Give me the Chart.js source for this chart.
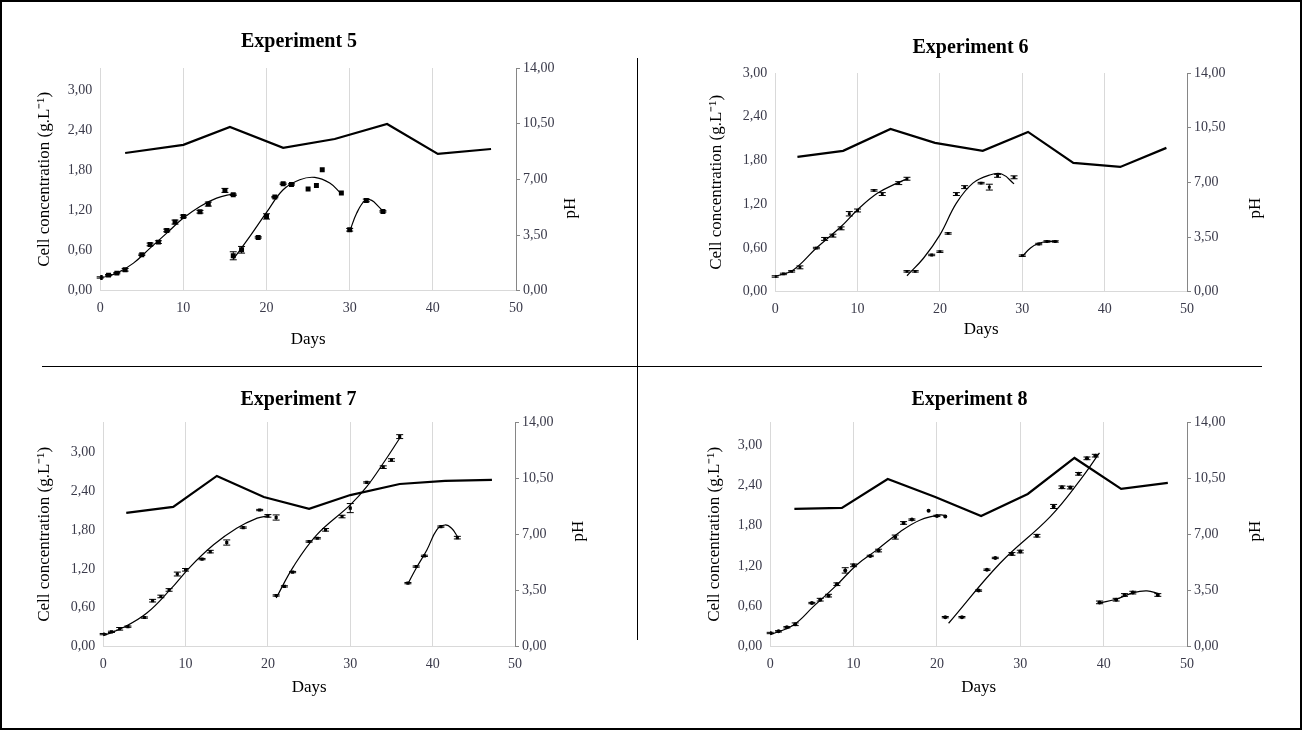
<!DOCTYPE html>
<html>
<head>
<meta charset="utf-8">
<script src="https://cdn.jsdelivr.net/npm/chart.js@4.4.0/dist/chart.umd.min.js"></script>
<style>
  body { margin: 0; background: #fff; }
  #frame { position: relative; width: 1302px; height: 730px; overflow: hidden; background: #fff; }
  #frame canvas { position: absolute; }
  .border { position: absolute; left: 0; top: 0; width: 1302px; height: 730px; box-sizing: border-box; border: 2px solid #000; pointer-events: none; }
  .ph { position: absolute; font: 17px 'Liberation Serif'; color: #000; transform: translate(-50%, -50%) rotate(-90deg); white-space: nowrap; }
  .vline { position: absolute; left: 637px; top: 58px; width: 1px; height: 582px; background: #000; }
  .hline { position: absolute; left: 42px; top: 366px; width: 1220px; height: 1px; background: #000; }
</style>
</head>
<body>
<div id="frame">
  <canvas id="exp5"></canvas>
  <canvas id="exp6"></canvas>
  <canvas id="exp7"></canvas>
  <canvas id="exp8"></canvas>
  <div class="vline"></div>
  <div class="hline"></div>
  <div class="border"></div>
</div>
<script>
// tick labels
const dayTicks = [0, 10, 20, 30, 40, 50];
const concTicks = [0, 0.6, 1.2, 1.8, 2.4, 3.0];
const phTicks = [0, 3.5, 7, 10.5, 14];

// Experiment 5 (three growth runs each)
const exp5Days = [[0, 1, 2, 3, 5, 6, 7, 8, 9, 10, 12, 13, 15, 16], [16, 17, 19, 20, 21, 22, 23, 25, 26, 26.7, 29], [30, 32, 34]];
const exp5Conc = [[0.20, 0.235, 0.265, 0.315, 0.54, 0.695, 0.73, 0.905, 1.03, 1.115, 1.185, 1.30, 1.505, 1.44], [0.525, 0.615, 0.80, 1.115, 1.405, 1.605, 1.595, 1.525, 1.58, 1.815, 1.465], [0.915, 1.355, 1.19]];
const exp5Err = [[0.01, 0.01, 0.01, 0.02, 0.01, 0.02, 0.02, 0.02, 0.03, 0.02, 0.02, 0.03, 0.03, 0.01], [0.06, 0.05, 0.01, 0.04, 0.01, 0.01, 0.01, 0, 0, 0, 0], [0.02, 0.02, 0.01]];
const exp5FitDays = [[0, 2, 4, 6, 8, 10, 12, 14, 16], [16, 18, 20, 22, 24, 25.8, 27.6, 28.9], [30, 30.85, 31.85, 32.65, 33.45, 34.05]];
const exp5FitConc = [[0.19, 0.265, 0.415, 0.64, 0.865, 1.09, 1.265, 1.39, 1.455], [0.475, 0.815, 1.175, 1.515, 1.665, 1.70, 1.615, 1.465], [0.89, 1.165, 1.355, 1.355, 1.265, 1.19]];
const exp5PhDays = [3, 10, 15.6, 22, 28.2, 34.5, 40.6, 47];
const exp5Ph = [8.66, 9.17, 10.30, 8.98, 9.54, 10.48, 8.60, 8.91];

// Experiment 6
const exp6Days = [[0, 1, 2, 3, 5, 6, 7, 8, 9, 10, 12, 13, 15, 16], [16, 17, 19, 20, 21, 22, 23, 25, 26, 27, 29], [30, 32, 33, 34]];
const exp6Conc = [[0.21, 0.245, 0.28, 0.335, 0.60, 0.725, 0.77, 0.87, 1.07, 1.115, 1.39, 1.34, 1.49, 1.55], [0.28, 0.28, 0.505, 0.55, 0.80, 1.34, 1.435, 1.49, 1.435, 1.59, 1.57], [0.495, 0.655, 0.69, 0.69]];
const exp6Err = [[0.01, 0.01, 0.01, 0.02, 0.01, 0.02, 0.02, 0.02, 0.03, 0.02, 0.01, 0.02, 0.02, 0.02], [0.01, 0.01, 0.01, 0.01, 0.01, 0.02, 0.02, 0.01, 0.04, 0.02, 0.02], [0.01, 0.01, 0.01, 0.01]];
const exp6FitDays = [[0, 2.2, 5, 8, 10, 12.4, 14.8, 16], [16, 18, 20, 22, 24, 26, 27.5, 29], [30, 31, 32, 33, 34.3]];
const exp6FitConc = [[0.21, 0.30, 0.60, 0.895, 1.125, 1.35, 1.49, 1.55], [0.22, 0.46, 0.78, 1.215, 1.49, 1.60, 1.615, 1.48], [0.485, 0.60, 0.665, 0.69, 0.69]];
const exp6PhDays = [2.7, 8.25, 14, 19.4, 25.2, 30.7, 36.2, 41.9, 47.5];
const exp6Ph = [8.63, 9.02, 10.42, 9.53, 9.02, 10.23, 8.25, 7.99, 9.21];

// Experiment 7
const exp7Days = [[0, 1, 2, 3, 5, 6, 7, 8, 9, 10, 12, 13, 15, 17, 19, 20, 21], [21, 22, 23, 25, 26, 27, 29, 30, 32, 34, 35, 36], [37, 38, 39, 41, 43]];
const exp7Conc = [[0.195, 0.23, 0.277, 0.31, 0.45, 0.71, 0.775, 0.875, 1.12, 1.185, 1.35, 1.465, 1.605, 1.835, 2.105, 2.015, 1.99], [0.79, 0.93, 1.15, 1.62, 1.67, 1.80, 2.005, 2.135, 2.53, 2.765, 2.875, 3.235], [0.98, 1.235, 1.40, 1.85, 1.68]];
const exp7Err = [[0.01, 0.01, 0.02, 0.01, 0.01, 0.02, 0.02, 0.02, 0.03, 0.02, 0.01, 0.02, 0.04, 0.01, 0.01, 0.02, 0.04], [0.01, 0.01, 0.01, 0.01, 0.01, 0.02, 0.02, 0.07, 0.01, 0.02, 0.02, 0.03], [0.01, 0.01, 0.01, 0.01, 0.02]];
const exp7FitDays = [[0, 2.5, 5.3, 8.1, 10.6, 13.4, 16.2, 18.7, 20], [21, 23.1, 25.9, 30, 32, 34, 36], [37, 38, 39.3, 40.5, 41.5, 42.3, 43]];
const exp7FitConc = [[0.17, 0.30, 0.52, 0.875, 1.235, 1.57, 1.825, 1.98, 2.015], [0.75, 1.235, 1.72, 2.185, 2.465, 2.825, 3.21], [0.97, 1.21, 1.49, 1.80, 1.875, 1.825, 1.70]];
const exp7PhDays = [2.8, 8.5, 13.8, 19.5, 25, 30, 36, 41.5, 47.2];
const exp7Ph = [8.34, 8.71, 10.64, 9.33, 8.59, 9.45, 10.14, 10.33, 10.39];

// Experiment 8
const exp8Days = [[0, 1, 2, 3, 5, 6, 7, 8, 9, 10, 12, 13, 15, 16, 17, 19, 20, 21], [21, 23, 25, 26, 27, 29, 30, 32, 34, 35, 36, 37, 38, 39], [39.5, 41.5, 42.5, 43.5, 46.5]];
const exp8Conc = [[0.205, 0.23, 0.29, 0.335, 0.65, 0.70, 0.76, 0.93, 1.135, 1.21, 1.35, 1.43, 1.63, 1.84, 1.89, 2.02, 1.945, 1.935], [0.44, 0.44, 0.835, 1.145, 1.32, 1.38, 1.415, 1.65, 2.085, 2.37, 2.365, 2.57, 2.80, 2.84], [0.66, 0.70, 0.77, 0.805, 0.77]];
const exp8Err = [[0.01, 0.01, 0.01, 0.02, 0.01, 0.02, 0.02, 0.02, 0.04, 0.02, 0.01, 0.02, 0.03, 0.02, 0.01, 0, 0.01, 0], [0.01, 0.01, 0.01, 0.01, 0.01, 0.02, 0.02, 0.02, 0.03, 0.02, 0.02, 0.02, 0.02, 0.02], [0.02, 0.02, 0.02, 0.02, 0.02]];
const exp8FitDays = [[0, 2.8, 5.2, 8, 10.4, 12.8, 15.6, 18, 20.4, 21.2], [21.4, 27.6, 33.6, 37.2, 39.5], [39.5, 41.6, 43.6, 45.2, 46.6]];
const exp8FitConc = [[0.18, 0.325, 0.60, 0.92, 1.22, 1.44, 1.71, 1.885, 1.96, 1.945], [0.35, 1.245, 1.935, 2.48, 2.88], [0.65, 0.71, 0.805, 0.83, 0.79]];
const exp8PhDays = [2.9, 8.6, 14.1, 19.8, 25.3, 30.9, 36.5, 42.1, 47.7];
const exp8Ph = [8.59, 8.65, 10.45, 9.33, 8.15, 9.52, 11.76, 9.83, 10.21];

const FONT = 'Liberation Serif';
const TICK_COLOR = '#3a3a4a';
const TITLE_SIZE = 20, AXIS_TITLE_SIZE = 17;

const pairs = (xs, ys) => xs.map((x, i) => ({ x: x, y: ys[i] }));
const comma = v => Number(v).toFixed(2).replace('.', ',');

// vertical error bars drawn through the y scale
const errorBars = {
  id: 'errorBars',
  afterDatasetsDraw(chart) {
    const ctx = chart.ctx;
    const ys = chart.scales.y;
    chart.data.datasets.forEach((ds, i) => {
      if (!ds.errors) return;
      const meta = chart.getDatasetMeta(i);
      ctx.save();
      ctx.strokeStyle = '#000';
      ctx.lineWidth = 1;
      meta.data.forEach((pt, j) => {
        const e = ds.errors[j];
        if (!e) return;
        const top = ys.getPixelForValue(ds.data[j].y + e);
        const bot = ys.getPixelForValue(ds.data[j].y - e);
        ctx.beginPath();
        ctx.moveTo(pt.x, top); ctx.lineTo(pt.x, bot);
        ctx.moveTo(pt.x - 3.5, top); ctx.lineTo(pt.x + 3.5, top);
        ctx.moveTo(pt.x - 3.5, bot); ctx.lineTo(pt.x + 3.5, bot);
        ctx.stroke();
      });
      ctx.restore();
    });
  }
};

function makePanel(id, title, g, days, conc, errs, fitDays, fitConc, phDays, phVals, yMax, marker) {
  const tLH = TITLE_SIZE * 1.2, aLH = AXIS_TITLE_SIZE * 1.2;
  const left = g.lx - aLH / 2, top = g.ty - tLH / 2, right = g.R + 48, bottom = g.dy + aLH / 2;
  const canvas = document.getElementById(id);
  canvas.style.left = left + 'px';
  canvas.style.top = top + 'px';
  canvas.width = right - left;
  canvas.height = bottom - top;

  const phLabel = document.createElement('div');
  phLabel.className = 'ph';
  phLabel.textContent = 'pH';
  phLabel.style.left = g.px + 'px';
  phLabel.style.top = g.py + 'px';
  document.getElementById('frame').appendChild(phLabel);

  const datasets = [];
  datasets.push({
    data: pairs(phDays, phVals), yAxisID: 'y1', showLine: true,
    borderColor: '#000', borderWidth: 2.2, pointRadius: 0, tension: 0
  });
  fitDays.forEach((fd, k) => {
    datasets.push({
      data: pairs(fd, fitConc[k]), yAxisID: 'y', showLine: true,
      borderColor: '#000', borderWidth: 1.2, pointRadius: 0, tension: 0.4
    });
  });
  days.forEach((d, k) => {
    datasets.push({
      data: pairs(d, conc[k]), errors: errs[k], yAxisID: 'y', showLine: false,
      pointStyle: marker.style, pointRadius: marker.r, backgroundColor: '#000', borderColor: '#000', borderWidth: 0
    });
  });

  new Chart(canvas, {
    type: 'scatter',
    data: { datasets: datasets },
    plugins: [errorBars],
    options: {
      responsive: false,
      animation: false,
      layout: { padding: 0 },
      plugins: {
        legend: { display: false },
        tooltip: { enabled: false },
        title: {
          display: true, text: title, color: '#000',
          font: { family: FONT, size: TITLE_SIZE, weight: 'bold', lineHeight: 1.2 },
          padding: { top: 0, bottom: g.T - top - tLH }
        }
      },
      scales: {
        x: {
          type: 'linear', min: 0, max: 50,
          afterBuildTicks: s => { s.ticks = dayTicks.map(v => ({ value: v })); },
          afterFit: s => { s.height = bottom - g.B; },
          grid: { color: '#d9d9d9', drawTicks: false },
          border: { color: '#d9d9d9' },
          ticks: { color: TICK_COLOR, padding: 9, font: { family: FONT, size: 14 } },
          title: { display: true, text: 'Days', color: '#000', padding: 0, font: { family: FONT, size: AXIS_TITLE_SIZE, lineHeight: 1.2 } }
        },
        y: {
          position: 'left', min: 0, max: yMax,
          afterBuildTicks: s => { s.ticks = concTicks.map(v => ({ value: v })); },
          afterFit: s => { s.width = g.L - left; },
          grid: { display: false, drawTicks: false },
          border: { color: '#d9d9d9' },
          ticks: { color: TICK_COLOR, padding: 8, font: { family: FONT, size: 14 }, callback: v => comma(v) },
          title: { display: true, text: 'Cell concentration (g.L⁻¹)', color: '#000', padding: 0, font: { family: FONT, size: AXIS_TITLE_SIZE, lineHeight: 1.2 } }
        },
        y1: {
          position: 'right', min: 0, max: 14,
          afterBuildTicks: s => { s.ticks = phTicks.map(v => ({ value: v })); },
          afterFit: s => { s.width = right - g.R; },
          grid: { drawOnChartArea: false, drawTicks: true, tickLength: 4, color: '#868686' },
          border: { color: '#868686' },
          ticks: { color: TICK_COLOR, padding: 3, font: { family: FONT, size: 14 }, callback: v => comma(v) }
        }
      }
    }
  });
}

makePanel('exp5', 'Experiment 5', { L: 100, R: 516, T: 68, B: 291, lx: 44, ty: 42, dy: 340, px: 570, py: 208 },
  exp5Days, exp5Conc, exp5Err, exp5FitDays, exp5FitConc, exp5PhDays, exp5Ph, 3.34, { style: 'rect', r: 3.5 });
makePanel('exp6', 'Experiment 6', { L: 775, R: 1187, T: 73, B: 292, lx: 716, ty: 48, dy: 330, px: 1255, py: 208 },
  exp6Days, exp6Conc, exp6Err, exp6FitDays, exp6FitConc, exp6PhDays, exp6Ph, 3.0, { style: 'rect', r: 2 });
makePanel('exp7', 'Experiment 7', { L: 103, R: 515, T: 422, B: 647, lx: 44, ty: 400, dy: 688, px: 578, py: 531 },
  exp7Days, exp7Conc, exp7Err, exp7FitDays, exp7FitConc, exp7PhDays, exp7Ph, 3.46, { style: 'rect', r: 2.2 });
makePanel('exp8', 'Experiment 8', { L: 770, R: 1187, T: 422, B: 647, lx: 714, ty: 400, dy: 688, px: 1255, py: 531 },
  exp8Days, exp8Conc, exp8Err, exp8FitDays, exp8FitConc, exp8PhDays, exp8Ph, 3.34, { style: 'circle', r: 2 });
</script>
</body>
</html>
